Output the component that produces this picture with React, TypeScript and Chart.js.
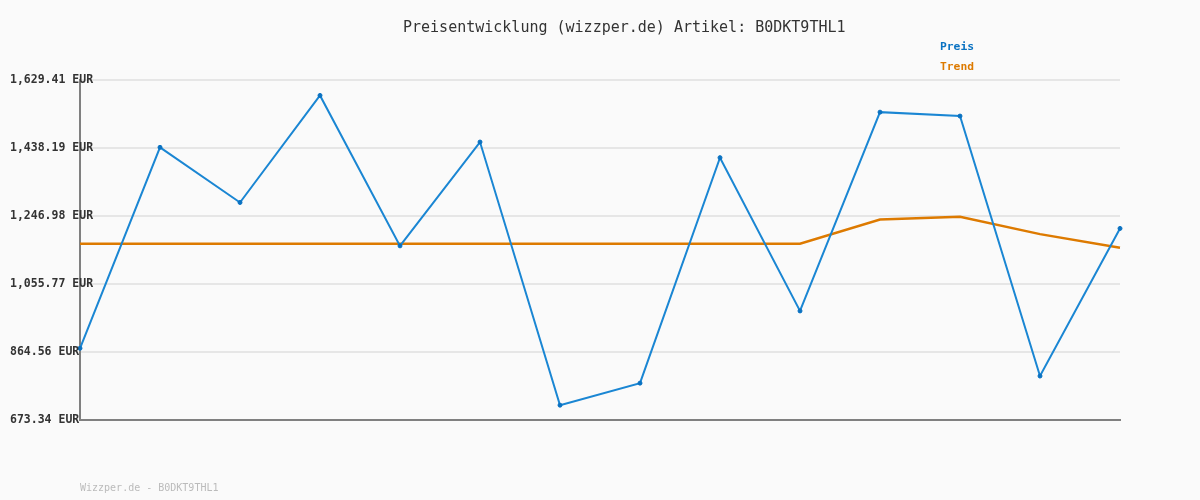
import React, { useEffect, useRef } from "react";
import { Chart, registerables } from "chart.js";

Chart.register(...registerables);

const titleText = "Preisentwicklung (wizzper.de) Artikel: B0DKT9THL1";
const footerText = "Wizzper.de - B0DKT9THL1";
const categories = ["1", "2", "3", "4", "5", "6", "7", "8", "9", "10", "11", "12", "13", "14"];
const preisValues = [875, 1440, 1285, 1586, 1163, 1455, 715, 777, 1411, 980, 1539, 1528, 797, 1212];
const trendValues = [1169, 1169, 1169, 1169, 1169, 1169, 1169, 1169, 1169, 1169, 1237, 1245, 1196, 1158];
const tickValues = [673.34, 864.56, 1055.77, 1246.98, 1438.19, 1629.41];
const tickLabels = ["673.34 EUR", "864.56 EUR", "1,055.77 EUR", "1,246.98 EUR", "1,438.19 EUR", "1,629.41 EUR"];

const BLUE = "#1a86d3";
const BLUE_PT = "#0a72c2";
const ORANGE = "#dd7a00";
const MONO = "'DejaVu Sans Mono', 'Liberation Mono', monospace";

export default function App() {
  const ref = useRef<HTMLCanvasElement | null>(null);

  useEffect(() => {
    if (!ref.current) return;
    const decor = {
      id: "decor",
      beforeDraw(chart: any) {
        const ctx = chart.ctx;
        ctx.save();
        ctx.fillStyle = "#fafafa";
        ctx.fillRect(0, 0, chart.width, chart.height);
        ctx.restore();
      },
      afterDraw(chart: any) {
        const ctx = chart.ctx;
        const y = chart.scales.y;
        ctx.save();
        ctx.textBaseline = "middle";
        ctx.textAlign = "left";
        ctx.fillStyle = "#333333";
        ctx.font = `15px ${MONO}`;
        ctx.fillText(titleText, 403, 28);
        ctx.font = `bold 11.5px ${MONO}`;
        tickValues.forEach((v, i) => {
          ctx.fillText(tickLabels[i], 10, y.getPixelForValue(v));
        });
        ctx.font = `bold 11.3px ${MONO}`;
        ctx.fillStyle = BLUE_PT;
        ctx.fillText(chart.data.datasets[0].label, 940, 47);
        ctx.fillStyle = ORANGE;
        ctx.fillText(chart.data.datasets[1].label, 940, 67);
        ctx.font = `10px ${MONO}`;
        ctx.fillStyle = "#bbbbbb";
        ctx.fillText(footerText, 80, 488);
        ctx.restore();
      },
    };

    const chart = new Chart(ref.current, {
      type: "line",
      data: {
        labels: categories,
        datasets: [
          {
            label: "Preis",
            data: preisValues,
            borderColor: BLUE,
            backgroundColor: BLUE_PT,
            borderWidth: 2,
            pointRadius: 2,
            pointBorderWidth: 1,
            pointBorderColor: BLUE_PT,
            pointBackgroundColor: BLUE_PT,
            tension: 0,
            order: 0,
          },
          {
            label: "Trend",
            data: trendValues,
            borderColor: ORANGE,
            backgroundColor: ORANGE,
            borderWidth: 2.5,
            pointRadius: 0,
            tension: 0,
            order: 1,
          },
        ],
      },
      options: {
        animation: false,
        responsive: false,
        layout: { padding: { left: 10, top: 80, right: 80, bottom: 0 } },
        plugins: {
          legend: { display: false },
          title: { display: false },
          tooltip: { enabled: false },
        },
        scales: {
          x: {
            offset: false,
            grid: { display: false },
            border: { display: true, color: "#808080", width: 2 },
            ticks: { display: false },
            afterFit: (s: any) => {
              s.height = 80;
            },
          },
          y: {
            min: 673.34,
            max: 1629.41,
            grid: { color: "#e6e6e6", lineWidth: 2, drawTicks: false },
            border: { display: true, color: "#808080", width: 2 },
            afterBuildTicks: (s: any) => {
              s.ticks = tickValues.map((v) => ({ value: v }));
            },
            ticks: { display: false },
            afterFit: (s: any) => {
              s.width = 70;
            },
          },
        },
      },
      plugins: [decor],
    });
    return () => chart.destroy();
  }, []);

  return (
    <div style={{ position: "absolute", left: 0, top: 0, width: 1200, height: 500 }}>
      <canvas ref={ref} width={1200} height={500} style={{ display: "block" }} />
    </div>
  );
}
